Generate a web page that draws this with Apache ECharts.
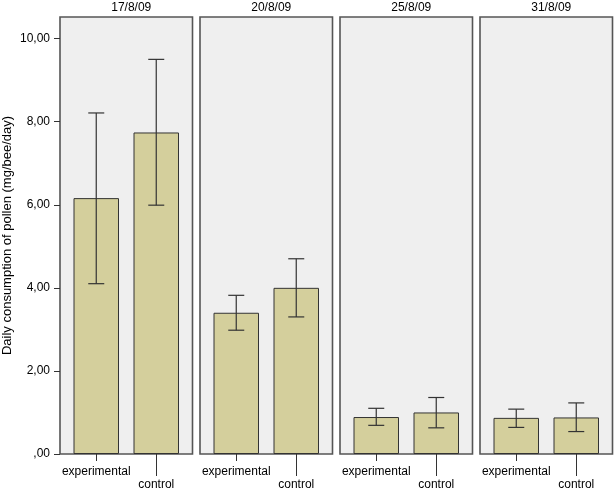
<!DOCTYPE html>
<html>
<head>
<meta charset="utf-8">
<script src="https://cdn.jsdelivr.net/npm/echarts@6/dist/echarts.min.js"></script>
<style>html,body{margin:0;padding:0;background:#fff;}#c{width:614px;height:488px;}</style>
</head>
<body>
<div id="c"></div>
<script>
var dates = ['17/8/09', '20/8/09', '25/8/09', '31/8/09'];
var groups = ['experimental', 'control'];
var experimentalMean = [6.16, 3.40, 0.89, 0.87];
var experimentalLow  = [4.10, 2.98, 0.69, 0.64];
var experimentalHigh = [8.21, 3.82, 1.10, 1.08];
var controlMean = [7.74, 4.00, 1.00, 0.88];
var controlLow  = [5.99, 3.30, 0.63, 0.54];
var controlHigh = [9.50, 4.70, 1.36, 1.23];
var yTickValues = [0, 2, 4, 6, 8, 10];
var yTickLabels = [',00', '2,00', '4,00', '6,00', '8,00', '10,00'];
var yName = 'Daily consumption of pollen (mg/bee/day)';

var FONT = 'Liberation Sans, Arial, sans-serif';
var YMAX = 10.52;
var PANEL_LEFT = 60, PANEL_STEP = 140, PANEL_W = 132.5, TOP = 17, BOTTOM = 34;

var grids = [], xAxes = [], yAxes = [], series = [], titles = [];
dates.forEach(function (d, i) {
  var pl = PANEL_LEFT + i * PANEL_STEP;
  var gB = grids.length;
  grids.push({left: pl, width: PANEL_W, top: TOP, bottom: BOTTOM, show: true,
    containLabel: false, outerBoundsMode: 'none',
    backgroundColor: '#efefef', borderColor: '#555555', borderWidth: 1.6});
  xAxes.push({gridIndex: gB, type: 'value', min: 0, max: 1, show: false});
  yAxes.push({gridIndex: gB, type: 'value', min: 0, max: YMAX, show: i === 0,
    name: i === 0 ? yName : '', nameLocation: 'middle', nameGap: 46, nameRotate: 90,
    nameTextStyle: {color: '#000', fontFamily: FONT, fontSize: 13},
    axisLine: {show: false}, splitLine: {show: false},
    axisTick: {show: true, length: 6, lineStyle: {color: '#333'}, customValues: yTickValues},
    axisLabel: {color: '#000', fontFamily: FONT, fontSize: 12, margin: 10, customValues: yTickValues,
      formatter: function (v) { var k = yTickValues.indexOf(v); return k >= 0 ? yTickLabels[k] : ''; }}
  });
  var gA = grids.length;
  grids.push({left: pl + 6.25, width: 120, top: TOP, bottom: BOTTOM, show: false,
    containLabel: false, outerBoundsMode: 'none'});
  var xa1 = xAxes.length;
  xAxes.push({gridIndex: gA, type: 'category', data: groups, position: 'bottom',
    axisLine: {show: false},
    axisTick: {show: true, alignWithLabel: true, length: 7, lineStyle: {color: '#333'},
      interval: function (idx) { return idx === 0; }},
    axisLabel: {color: '#000', fontFamily: FONT, fontSize: 12, margin: 12,
      interval: function (idx) { return idx === 0; }}
  });
  xAxes.push({gridIndex: gA, type: 'category', data: groups, position: 'bottom',
    axisLine: {show: false},
    axisTick: {show: true, alignWithLabel: true, length: 22, lineStyle: {color: '#333'},
      interval: function (idx) { return idx === 1; }},
    axisLabel: {color: '#000', fontFamily: FONT, fontSize: 12, margin: 24.5,
      interval: function (idx) { return idx === 1; }}
  });
  var ya = yAxes.length;
  yAxes.push({gridIndex: gA, type: 'value', min: 0, max: YMAX, show: false});

  series.push({type: 'bar', xAxisIndex: xa1, yAxisIndex: ya, barWidth: 45.5,
    data: [experimentalMean[i], controlMean[i]],
    itemStyle: {color: '#d4cf9c', borderColor: '#333', borderWidth: 1},
    emphasis: {disabled: true}, z: 2});
  series.push({type: 'custom', xAxisIndex: xa1, yAxisIndex: ya, z: 5,
    data: [[0, experimentalLow[i], experimentalHigh[i]], [1, controlLow[i], controlHigh[i]]],
    renderItem: function (params, api) {
      var lo = api.coord([api.value(0), api.value(1)]);
      var hi = api.coord([api.value(0), api.value(2)]);
      var cw = 8;
      var st = {stroke: '#333', lineWidth: 1.2};
      return {type: 'group', children: [
        {type: 'line', shape: {x1: lo[0], y1: lo[1], x2: hi[0], y2: hi[1]}, style: st},
        {type: 'line', shape: {x1: lo[0] - cw, y1: lo[1], x2: lo[0] + cw, y2: lo[1]}, style: st},
        {type: 'line', shape: {x1: hi[0] - cw, y1: hi[1], x2: hi[0] + cw, y2: hi[1]}, style: st}
      ]};
    }
  });
  titles.push({text: d, left: pl + PANEL_W / 2, top: -3, textAlign: 'center',
    textStyle: {color: '#000', fontFamily: FONT, fontSize: 12, fontWeight: 'normal'}});
});

var chart = echarts.init(document.getElementById('c'), null, {renderer: 'canvas'});
chart.setOption({
  animation: false,
  backgroundColor: '#fff',
  title: titles,
  grid: grids,
  xAxis: xAxes,
  yAxis: yAxes,
  series: series
});
</script>
</body>
</html>
